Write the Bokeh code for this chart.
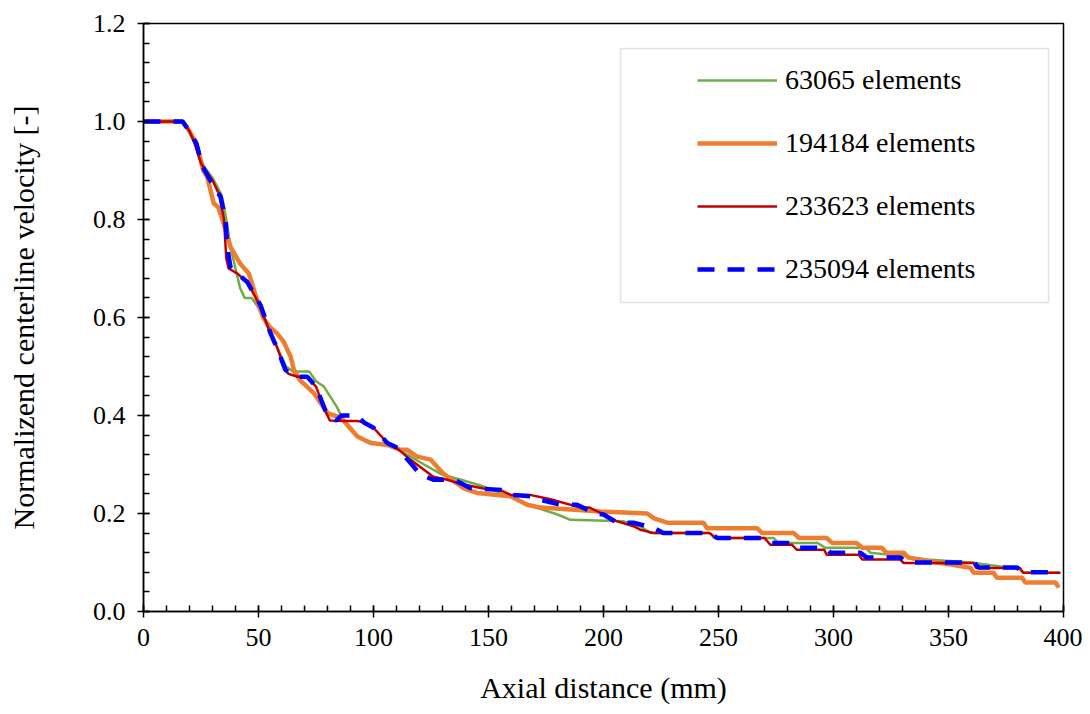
from bokeh.plotting import figure
from bokeh.models import Range1d, FixedTicker, PrintfTickFormatter, Legend, LegendItem, BoxAnnotation
from bokeh.embed import file_html
from bokeh.resources import INLINE

# ---- data ----
x_63065 = [0, 17, 20, 23, 26, 30, 34, 36, 38, 40, 42, 44, 47, 50, 54, 58, 62, 65, 72, 75, 78.4, 84, 87, 90, 93, 96,
           100, 106, 110, 114.7, 122, 130, 138, 148, 155, 162, 169.6, 180, 185.6, 208.8, 216, 220.4, 246.5, 248,
           274, 276, 293, 296.4, 314, 316, 330.5, 340.7, 360, 381, 382.5, 398]
y_63065 = [1.0, 1.0, 0.98, 0.955, 0.91, 0.885, 0.85, 0.80, 0.74, 0.70, 0.66, 0.64, 0.64, 0.62, 0.58, 0.54, 0.50, 0.49,
           0.49, 0.47, 0.459, 0.418, 0.39, 0.37, 0.357, 0.35, 0.345, 0.34, 0.334, 0.32, 0.30, 0.279, 0.269, 0.255,
           0.242, 0.23, 0.214, 0.198, 0.187, 0.184, 0.174, 0.16, 0.16, 0.15, 0.15, 0.14, 0.14, 0.13, 0.13, 0.12,
           0.113, 0.106, 0.10, 0.086, 0.079, 0.079]

x_194184 = [0, 17, 20, 23, 26, 27.7, 30.5, 32.5, 35, 37.8, 42, 45.8, 49.4, 52, 55, 58, 61, 64, 65.4, 68, 74, 80, 86,
            93, 98.7, 106, 111.7, 114.6, 119, 124.8, 130, 139, 145, 159.6, 166.8, 172.6, 198.7, 219, 222, 228,
            243.5, 245, 266.8, 269, 282.7, 285, 297, 299.4, 310, 312.5, 321, 323, 330.5, 332.6, 342, 350.9,
            359.6, 361, 369.6, 371, 382, 383.5, 396.5, 398]
y_194184 = [1.0, 1.0, 0.98, 0.955, 0.90, 0.887, 0.833, 0.825, 0.79, 0.744, 0.71, 0.69, 0.635, 0.60, 0.58, 0.568,
            0.55, 0.52, 0.493, 0.472, 0.446, 0.405, 0.395, 0.357, 0.344, 0.34, 0.33, 0.33, 0.316, 0.31, 0.283,
            0.252, 0.242, 0.235, 0.218, 0.212, 0.204, 0.20, 0.19, 0.181, 0.181, 0.170, 0.170, 0.160, 0.160,
            0.150, 0.150, 0.140, 0.140, 0.130, 0.130, 0.12, 0.12, 0.11, 0.102, 0.096, 0.089, 0.079, 0.079,
            0.069, 0.069, 0.059, 0.059, 0.049]

x_233623 = [0, 17, 20, 22, 25, 27, 30, 33, 35, 36, 37, 40.7, 45, 50, 55, 58, 61, 63, 67, 71, 75, 79, 81, 87, 93,
            96, 100, 106, 110, 116, 126, 132, 139, 149, 155, 159.6, 168, 177, 190, 194, 200, 204, 213, 216, 222,
            246, 249, 270, 272.6, 282, 284, 296, 297, 311, 312.5, 329, 330.5, 361, 362, 381, 382.5, 398.7]
y_233623 = [1.0, 1.0, 0.98, 0.958, 0.915, 0.90, 0.88, 0.85, 0.80, 0.72, 0.70, 0.69, 0.673, 0.63, 0.57, 0.54, 0.50,
            0.485, 0.479, 0.479, 0.459, 0.41, 0.39, 0.389, 0.389, 0.385, 0.375, 0.344, 0.334, 0.31, 0.275, 0.269,
            0.259, 0.25, 0.248, 0.238, 0.238, 0.229, 0.212, 0.212, 0.198, 0.187, 0.174, 0.167, 0.16, 0.16, 0.15,
            0.15, 0.136, 0.136, 0.126, 0.126, 0.116, 0.116, 0.106, 0.106, 0.099, 0.099, 0.089, 0.089, 0.079,
            0.079]

x_235094 = [0, 17, 20, 23, 25.5, 29, 33.5, 35.7, 36.4, 37.8, 40.7, 45, 50.9, 55.2, 58, 61.7, 63, 66.8, 71.2, 75,
            79, 81.3, 84, 86, 93, 96, 100, 106, 110.4, 117.4, 120.4, 126, 135, 142, 148, 156.7, 159.6, 169.6,
            172.6, 181.3, 188.5, 195.8, 200, 206, 213, 221.7, 226, 246.5, 249.4, 269.6, 272.6, 282, 284, 296.5,
            298.7, 311.7, 314.6, 329, 332, 361, 363, 379.8, 382, 397]
y_235094 = [1.0, 1.0, 0.98, 0.955, 0.91, 0.88, 0.846, 0.80, 0.744, 0.703, 0.69, 0.673, 0.625, 0.568, 0.538, 0.493,
            0.489, 0.479, 0.479, 0.459, 0.411, 0.395, 0.39, 0.40, 0.40, 0.385, 0.375, 0.344, 0.334, 0.296, 0.279,
            0.269, 0.269, 0.252, 0.25, 0.248, 0.238, 0.235, 0.228, 0.218, 0.218, 0.201, 0.198, 0.181, 0.181,
            0.171, 0.16, 0.16, 0.15, 0.15, 0.14, 0.14, 0.13, 0.13, 0.12, 0.12, 0.11, 0.11, 0.10, 0.10, 0.09, 0.09,
            0.08, 0.08]

series_labels = ["63065 elements", "194184 elements", "233623 elements", "235094 elements"]
x_ticks = [0, 50, 100, 150, 200, 250, 300, 350, 400]
x_minor = list(range(0, 401, 10))
y_ticks = [0.0, 0.2, 0.4, 0.6, 0.8, 1.0, 1.2]
y_minor = [round(i * 0.04, 2) for i in range(31)]

FONT = "Liberation Serif"

p = figure(width=1082, height=706, output_backend="svg", toolbar_location=None,
           x_range=Range1d(0, 400), y_range=Range1d(0, 1.2),
           min_border_left=143, min_border_right=19, min_border_top=23, min_border_bottom=94)
p.background_fill_color = "white"
p.border_fill_color = "white"
p.outline_line_color = "#000000"
p.outline_line_width = 1.5
p.xgrid.grid_line_color = None
p.ygrid.grid_line_color = None

p.xaxis.ticker = FixedTicker(ticks=x_ticks, minor_ticks=x_minor)
p.yaxis.ticker = FixedTicker(ticks=y_ticks, minor_ticks=y_minor)
p.yaxis.formatter = PrintfTickFormatter(format="%.1f")

for ax in (p.xaxis[0], p.yaxis[0]):
    ax.axis_line_color = "#000000"
    ax.axis_line_width = 1.5
    ax.major_tick_line_color = "#000000"
    ax.major_tick_line_width = 1.5
    ax.minor_tick_line_color = "#000000"
    ax.minor_tick_line_width = 1.5
    ax.major_tick_in = 6
    ax.major_tick_out = 6
    ax.minor_tick_in = 6
    ax.minor_tick_out = 0
    ax.major_label_text_font = FONT
    ax.major_label_text_font_size = "26px"
    ax.major_label_text_color = "#000000"
    ax.axis_label_text_font = FONT
    ax.axis_label_text_font_size = "30px"
    ax.axis_label_text_font_style = "normal"
    ax.axis_label_text_color = "#000000"

p.xaxis.axis_label = "Axial distance (mm)"
p.yaxis.axis_label = "Normalizend centerline velocity [-]"
p.xaxis.major_label_standoff = 11
p.yaxis.major_label_standoff = 12
p.xaxis.axis_label_standoff = 22
p.yaxis.axis_label_standoff = 50

r1 = p.line(x_63065, y_63065, line_color="#70AD47", line_width=2.5)
r2 = p.line(x_194184, y_194184, line_color="#ED7D31", line_width=4.5)
r3 = p.line(x_233623, y_233623, line_color="#C00000", line_width=2.5)
r4 = p.line(x_235094, y_235094, line_color="#0000FF", line_width=4.5, line_dash="17 13")

box = BoxAnnotation(left=620, right=1048, top=48, bottom=302,
                    left_units="canvas", right_units="canvas", top_units="canvas", bottom_units="canvas",
                    fill_color="white", fill_alpha=1.0, line_color="#A0A0A0", line_width=1.5)
p.add_layout(box)

legend = Legend(items=[LegendItem(label=series_labels[0], renderers=[r1]),
                       LegendItem(label=series_labels[1], renderers=[r2]),
                       LegendItem(label=series_labels[2], renderers=[r3]),
                       LegendItem(label=series_labels[3], renderers=[r4])],
                location=(554, 326), padding=0, margin=0, spacing=31,
                glyph_width=80, glyph_height=30, label_height=30, label_standoff=8,
                label_text_font=FONT, label_text_font_size="28px", label_text_color="#000000",
                border_line_alpha=0, background_fill_alpha=0)
p.add_layout(legend)

open("out.html", "w").write(file_html(p, INLINE))
